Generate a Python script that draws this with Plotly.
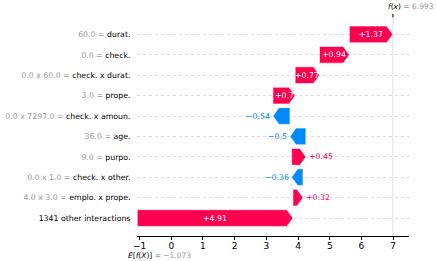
import plotly.graph_objects as go

# ---- data (top row first) ----
features = ["durat.", "check.", "check. x durat.", "prope.", "check. x amoun.",
            "age.", "purpo.", "check. x other.", "emplo. x prope.", "1341 other interactions"]
feature_values = ["60.0", "0.0", "0.0 x 60.0", "3.0", "0.0 x 7297.0",
                  "36.0", "9.0", "0.0 x 1.0", "4.0 x 3.0", ""]
shap_values = [1.37, 0.94, 0.77, 0.70, -0.54, -0.50, 0.45, -0.36, 0.32, 4.91]
base_value = -1.073
fx_value = 6.993
x_ticks = [-1, 0, 1, 2, 3, 4, 5, 6, 7]

RED = "#ff0051"
BLUE = "#008bfb"
GREY = "#999999"
FONT = "DejaVu Sans"
FS = 7.8

n = len(features)
fig = go.Figure()

rows = list(range(n - 1, -1, -1))
starts = [0.0] * n
ends = [0.0] * n
cur = base_value
for i in range(n - 1, -1, -1):
    starts[i] = cur
    cur = cur + shap_values[i]
    ends[i] = cur

head = 0.19
hh = 0.41
annotations = []
shapes = []
for i in range(n):
    y = rows[i]
    s, e, v = starts[i], ends[i], shap_values[i]
    h = min(head, abs(v))
    col = RED if v > 0 else BLUE
    if v > 0:
        xs = [s, e - h, e, e - h, s, s]
    else:
        xs = [s, e + h, e, e + h, s, s]
    ys = [y - hh, y - hh, y, y + hh, y + hh, y - hh]
    fig.add_trace(go.Scatter(x=xs, y=ys, fill="toself", fillcolor=col, mode="lines",
                             line=dict(width=0.6, color="white"), hoverinfo="skip",
                             showlegend=False))
    label = ("+" if v > 0 else "\u2212") + f"{abs(v):g}"
    if abs(v) >= 0.6:
        annotations.append(dict(x=(s + e) / 2, y=y, text=label, showarrow=False,
                                font=dict(family=FONT, size=FS, color="white"),
                                xanchor="center", yanchor="middle"))
    else:
        if v > 0:
            annotations.append(dict(x=e, y=y, text=label, showarrow=False,
                                    font=dict(family=FONT, size=FS, color=RED),
                                    xanchor="left", yanchor="middle", xshift=1))
        else:
            annotations.append(dict(x=e, y=y, text=label, showarrow=False,
                                    font=dict(family=FONT, size=FS, color=BLUE),
                                    xanchor="right", yanchor="middle", xshift=-1))
    if i < n - 1:
        shapes.append(dict(type="line", xref="x", yref="y", x0=s, x1=s,
                           y0=y - 1 - 0.4, y1=y + 0.4,
                           line=dict(color="#dddddd", width=0.5, dash="dot")))

ticktext = []
for fv, fn in zip(feature_values, features):
    if fv:
        ticktext.append(f"<span style='color:{GREY}'>{fv} = </span>{fn}")
    else:
        ticktext.append(fn)

shapes.append(dict(type="line", xref="x", yref="paper", x0=fx_value, x1=fx_value,
                   y0=0, y1=1, line=dict(color="#dddddd", width=1), layer="below"))
shapes.append(dict(type="line", xref="x", yref="paper", x0=fx_value, x1=fx_value,
                   y0=1, y1=0.985, line=dict(color="black", width=1)))

annotations.append(dict(x=fx_value, xref="x", y=1, yref="paper",
                        text=f"<i>f</i>(<i>x</i>)<span style='color:{GREY}'> = {fx_value:.3f}</span>",
                        showarrow=False, xanchor="left", yanchor="bottom",
                        xshift=-7, yshift=1,
                        font=dict(family=FONT, size=7.5, color="black")))
annotations.append(dict(x=base_value, xref="x", y=0, yref="paper",
                        text=f"<i>E</i>[<i>f</i>(<i>X</i>)]<span style='color:{GREY}'> = \u2212{abs(base_value):.3f}</span>",
                        showarrow=False, xanchor="left", yanchor="top",
                        xshift=-11, yshift=-13,
                        font=dict(family=FONT, size=7.5, color="black")))

fig.update_layout(
    width=436, height=261,
    margin=dict(l=137, r=27, t=14, b=25, autoexpand=False),
    plot_bgcolor="white", paper_bgcolor="white",
    font=dict(family=FONT, size=FS, color="black"),
    shapes=shapes, annotations=annotations,
    showlegend=False,
)
fig.update_xaxes(range=[-1.08, 7.5], tickvals=x_ticks,
                 ticktext=[("\u2212" if t < 0 else "") + str(abs(t)) for t in x_ticks],
                 showgrid=False, zeroline=False, showline=True, linecolor="black",
                 linewidth=1, ticks="outside", ticklen=3, tickcolor="black",
                 automargin=False, ticklabelstandoff=-2,
                 tickfont=dict(family=FONT, size=9, color="black"))
fig.update_yaxes(range=[-0.88, 10.0], tickvals=rows, ticktext=ticktext,
                 showgrid=True, gridcolor="#dcdcdc", griddash="dot", gridwidth=0.6,
                 zeroline=False, showline=False, ticks="outside", ticklen=4,
                 tickcolor="rgba(0,0,0,0)", automargin=False,
                 tickfont=dict(family=FONT, size=FS, color="black"))

fig.write_html("out.html", config={"displayModeBar": False},
               post_script="document.body.style.margin='0';document.body.style.overflow='hidden';")
